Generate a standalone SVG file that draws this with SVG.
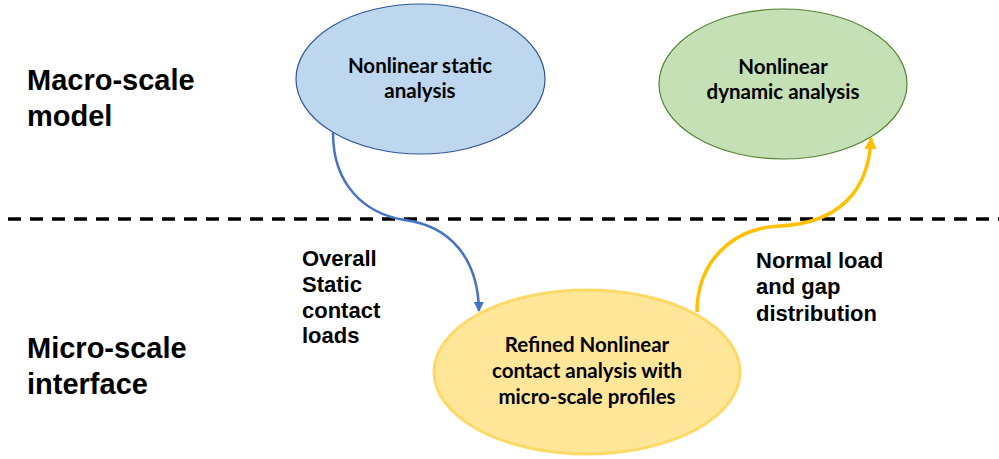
<svg xmlns="http://www.w3.org/2000/svg" width="999" height="459" viewBox="0 0 999 459">
<style>
.side{font-family:"Liberation Sans",Arial,sans-serif;font-weight:bold;font-size:29px;fill:#000}
.lbl{font-family:"Liberation Sans",Arial,sans-serif;font-weight:bold;font-size:22px;fill:#000}
.node{font-family:Lato,"Open Sans",sans-serif;font-weight:bold;font-size:20.5px;fill:#000;text-anchor:middle}
.conn{fill:none}
</style>
<defs>
<marker id="ab" viewBox="0 0 10 10" refX="9" refY="5" markerWidth="4" markerHeight="4" orient="auto" markerUnits="strokeWidth">
<path d="M0,0 L10,5 L0,10 z" fill="#4472C4"/>
</marker>
<marker id="ay" viewBox="0 0 10 10" refX="9" refY="5" markerWidth="3.5" markerHeight="3.5" orient="auto" markerUnits="strokeWidth">
<path d="M0,0 L10,5 L0,10 z" fill="#FFC000"/>
</marker>
</defs>
<rect width="999" height="459" fill="#fff"/>
<line x1="8" y1="219" x2="999" y2="219" stroke="#000" stroke-width="3.5" stroke-dasharray="13 9"/>
<text class="side" x="27" y="90">Macro-scale</text>
<text class="side" x="27" y="126">model</text>
<text class="side" x="27" y="358">Micro-scale</text>
<text class="side" x="27" y="394">interface</text>
<g id="static">
<ellipse cx="420.5" cy="79" rx="124.5" ry="75" fill="#BDD7EE" stroke="#2F5597" stroke-width="1.2"/>
<text class="node" x="420" y="73">Nonlinear static</text>
<text class="node" x="420" y="98">analysis</text>
</g>
<g id="dynamic">
<ellipse cx="783" cy="84" rx="124" ry="75" fill="#C5E0B4" stroke="#548235" stroke-width="1.2"/>
<text class="node" x="783" y="74">Nonlinear</text>
<text class="node" x="783" y="99">dynamic analysis</text>
</g>
<g id="contact">
<ellipse cx="587" cy="372" rx="153" ry="82" fill="#FFE699" stroke="#FFD966" stroke-width="3"/>
<text class="node" x="587" y="352">Refined Nonlinear</text>
<text class="node" x="587" y="378">contact analysis with</text>
<text class="node" x="587" y="404">micro-scale profiles</text>
</g>
<g id="connectors">
<path class="conn" d="M333,133 C333,185 365,214 405,220 C450,226 478,258 479,311" stroke="#4472C4" stroke-width="2.5" marker-end="url(#ab)"/>
<path class="conn" d="M697,312 C697,262 732,228 780,226 C838,223 869,192 871,138" stroke="#FFC000" stroke-width="3.5" marker-end="url(#ay)"/>
</g>
<g id="labels">
<text class="lbl" x="302" y="266">Overall</text>
<text class="lbl" x="302" y="292">Static</text>
<text class="lbl" x="302" y="318">contact</text>
<text class="lbl" x="302" y="343">loads</text>
<text class="lbl" x="756" y="268">Normal load</text>
<text class="lbl" x="756" y="294">and gap</text>
<text class="lbl" x="756" y="321">distribution</text>
</g>
</svg>
